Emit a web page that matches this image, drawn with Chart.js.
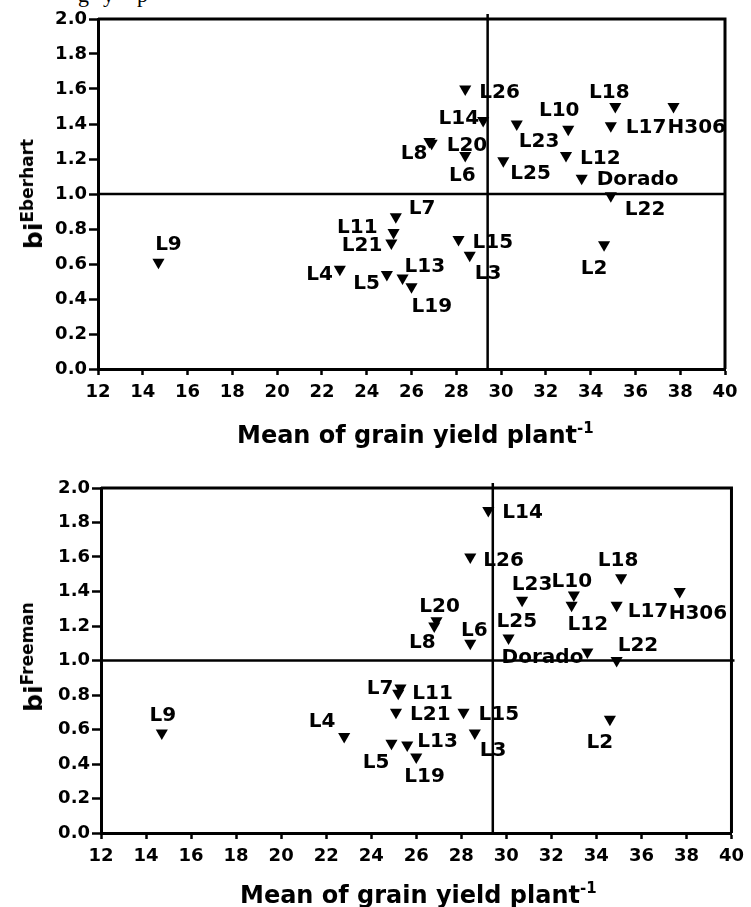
<!DOCTYPE html>
<html lang="en">
<head>
  <meta charset="UTF-8">
  <title>bi (Eberhart / Freeman) vs mean grain yield</title>
  <script src="https://cdn.jsdelivr.net/npm/chart.js"></script>
  <style>
    * { box-sizing: border-box; }
    html, body { margin: 0; padding: 0; background: #fff; }
    body {
      width: 751px;
      height: 907px;
      position: relative;
      overflow: hidden;
      color: #000;
      font-family: 'DejaVu Sans', sans-serif;
    }
    canvas { position: absolute; left: 0; }
    #chartTop { top: 0; }
    #chartBottom { top: 455px; }
    .xtitle {
      position: absolute;
      font: bold 24px 'DejaVu Sans';
      line-height: 24px;
      white-space: nowrap;
    }
    .xtitle span { position: relative; top: -10px; font-size: 15px; }
    .ytitle {
      position: absolute;
      font: bold 25px 'DejaVu Sans';
      line-height: 28px;
      white-space: nowrap;
      transform: translate(-50%, -50%) rotate(-90deg);
    }
    .ytitle span { position: relative; top: -9px; font-size: 17px; }
    .cut {
      position: absolute;
      top: -16px;
      font: 22px 'Liberation Serif', serif;
      line-height: 22px;
    }
  </style>
</head>
<body>
  <!-- last line of the caption above, cropped by the picture edge -->
  <div class="cut" style="left:78px">g</div>
  <div class="cut" style="left:103px">y</div>
  <div class="cut" style="left:137px">p</div>

  <canvas id="chartTop" width="751" height="455"></canvas>
  <canvas id="chartBottom" width="751" height="452"></canvas>

  <div class="ytitle" style="left:35px; top:194px">bi<span>Eberhart</span></div>
  <div class="xtitle" style="left:237px; top:423px">Mean of grain yield plant<span>-1</span></div>

  <div class="ytitle" style="left:35px; top:657px">bi<span>Freeman</span></div>
  <div class="xtitle" style="left:240px; top:883px">Mean of grain yield plant<span>-1</span></div>

  <script>
    const genotypes = ['L2', 'L3', 'L4', 'L5', 'L6', 'L7', 'L8', 'L9', 'L10', 'L11', 'L12', 'L13', 'L14',
                       'L15', 'L17', 'L18', 'L19', 'L20', 'L21', 'L22', 'L23', 'L25', 'L26', 'Dorado', 'H306'];
    const meanYield = [34.6, 28.6, 22.8, 24.9, 28.4, 25.3, 26.8, 14.7, 33.0, 25.2, 32.9, 25.6, 29.2,
                       28.1, 34.9, 35.1, 26.0, 26.9, 25.1, 34.9, 30.7, 30.1, 28.4, 33.6, 37.7];
    const biEberhart = [0.71, 0.65, 0.57, 0.54, 1.22, 0.87, 1.30, 0.61, 1.37, 0.78, 1.22, 0.52, 1.42,
                        0.74, 1.39, 1.50, 0.47, 1.29, 0.72, 0.99, 1.40, 1.19, 1.60, 1.09, 1.50];
    const biFreeman = [0.66, 0.58, 0.56, 0.52, 1.10, 0.84, 1.20, 0.58, 1.38, 0.81, 1.32, 0.51, 1.87,
                       0.70, 1.32, 1.48, 0.44, 1.23, 0.70, 1.00, 1.35, 1.13, 1.60, 1.05, 1.40];

    // reference lines: grand mean yield and bi = 1
    const grandMean = 29.4;
    const unitBi = 1.0;

    const xTickValues = [12, 14, 16, 18, 20, 22, 24, 26, 28, 30, 32, 34, 36, 38, 40];
    const yTickValues = [0.0, 0.2, 0.4, 0.6, 0.8, 1.0, 1.2, 1.4, 1.6, 1.8, 2.0];

    // where each name sits next to its marker: [dx, dy, align]
    const placeTop = {
      L26: [14, 4, 'left'], L14: [-4, -2, 'right'], L8: [-2, 12, 'right'], L20: [15, 3, 'left'],
      L6: [-3, 20, 'center'], L23: [2, 18, 'left'], L10: [-9, -18, 'center'], L18: [-6, -14, 'center'],
      H306: [-6, 21, 'left'], L17: [15, 2, 'left'], L12: [14, 3, 'left'], L25: [7, 13, 'left'],
      Dorado: [15, 2, 'left'], L22: [14, 14, 'left'], L7: [13, -8, 'left'], L11: [-16, -5, 'right'],
      L21: [-9, 3, 'right'], L15: [14, 3, 'left'], L3: [5, 19, 'left'], L4: [-7, 6, 'right'],
      L5: [-7, 9, 'right'], L13: [2, -11, 'left'], L19: [0, 20, 'left'], L9: [10, -17, 'center'],
      L2: [-10, 24, 'center']
    };
    const placeBottom = {
      L14: [14, 2, 'left'], L26: [13, 4, 'left'], L18: [-3, -17, 'center'], L23: [10, -15, 'center'],
      L10: [-2, -13, 'center'], H306: [-11, 22, 'left'], L17: [11, 6, 'left'], L12: [-4, 19, 'left'],
      L20: [3, -14, 'center'], L8: [-12, 17, 'center'], L6: [4, -12, 'center'], L25: [-12, -16, 'left'],
      Dorado: [-4, 6, 'right'], L22: [1, -15, 'left'], L7: [-7, 1, 'right'], L11: [14, 1, 'left'],
      L21: [14, 3, 'left'], L15: [15, 3, 'left'], L3: [5, 18, 'left'], L4: [-22, -15, 'center'],
      L5: [-2, 19, 'right'], L13: [10, -3, 'left'], L19: [-12, 20, 'left'], L9: [1, -17, 'center'],
      L2: [-10, 24, 'center']
    };

    const boldFont = size => ({ family: 'DejaVu Sans', size: size, weight: 'bold' });

    function framePlugin(overhang) {
      return {
        id: 'frame',
        beforeDatasetsDraw(chart) {
          const { ctx, chartArea: a, scales: { x, y } } = chart;
          ctx.save();
          ctx.strokeStyle = '#000';
          ctx.lineWidth = 3;
          ctx.beginPath();
          ctx.moveTo(a.left, a.top);
          ctx.lineTo(a.right, a.top);
          ctx.lineTo(a.right, a.bottom);
          ctx.stroke();

          const px = x.getPixelForValue(grandMean);
          const py = y.getPixelForValue(unitBi);
          ctx.lineWidth = 2.5;
          ctx.beginPath();
          ctx.moveTo(px, a.top - 5);
          ctx.lineTo(px, a.bottom);
          ctx.moveTo(a.left, py);
          ctx.lineTo(a.right + overhang, py);
          ctx.stroke();
          ctx.restore();
        }
      };
    }

    function labelPlugin(place) {
      return {
        id: 'pointNames',
        afterDatasetsDraw(chart) {
          const ctx = chart.ctx;
          const meta = chart.getDatasetMeta(0);
          ctx.save();
          ctx.font = 'bold 20px "DejaVu Sans"';
          ctx.fillStyle = '#000';
          ctx.textBaseline = 'middle';
          meta.data.forEach((pt, i) => {
            const name = genotypes[i];
            const p = place[name];
            ctx.textAlign = p[2];
            ctx.fillText(name, pt.x + p[0], pt.y + p[1]);
          });
          ctx.restore();
        }
      };
    }

    function makeChart(id, bi, place, pad, yWidth, overhang) {
      const ctx = document.getElementById(id).getContext('2d');
      return new Chart(ctx, {
        type: 'scatter',
        data: {
          datasets: [{
            data: meanYield.map((m, i) => ({ x: m, y: bi[i] })),
            pointStyle: 'triangle',
            rotation: 180,
            radius: 7,
            hoverRadius: 7,
            backgroundColor: '#000',
            borderColor: '#000',
            borderWidth: 0
          }]
        },
        options: {
          responsive: false,
          animation: false,
          events: [],
          layout: { padding: pad },
          plugins: {
            legend: { display: false },
            tooltip: { enabled: false }
          },
          scales: {
            x: {
              type: 'linear',
              min: 12,
              max: 40,
              afterBuildTicks: s => { s.ticks = xTickValues.map(v => ({ value: v })); },
              afterFit: s => { s.height = 40; },
              ticks: { font: boldFont(18), color: '#000', padding: 7, maxRotation: 0, autoSkip: false },
              grid: { drawOnChartArea: false, drawTicks: true, tickLength: 6, tickWidth: 2.5, tickColor: '#000', color: '#000' },
              border: { display: true, color: '#000', width: 3 }
            },
            y: {
              type: 'linear',
              min: 0,
              max: 2,
              afterBuildTicks: s => { s.ticks = yTickValues.map(v => ({ value: v })); },
              afterFit: s => { s.width = yWidth; },
              ticks: { font: boldFont(18), color: '#000', padding: 2, autoSkip: false,
                       callback: v => v.toFixed(1) },
              grid: { drawOnChartArea: false, drawTicks: true, tickLength: 9, tickWidth: 2.5, tickColor: '#000', color: '#000' },
              border: { display: true, color: '#000', width: 3 }
            }
          }
        },
        plugins: [framePlugin(overhang), labelPlugin(place)]
      });
    }

    makeChart('chartTop', biEberhart, placeTop, { left: 0, top: 19, right: 26, bottom: 46 }, 98, 0);
    makeChart('chartBottom', biFreeman, placeBottom, { left: 0, top: 33, right: 16, bottom: 34 }, 101, 3);
  </script>
</body>
</html>
